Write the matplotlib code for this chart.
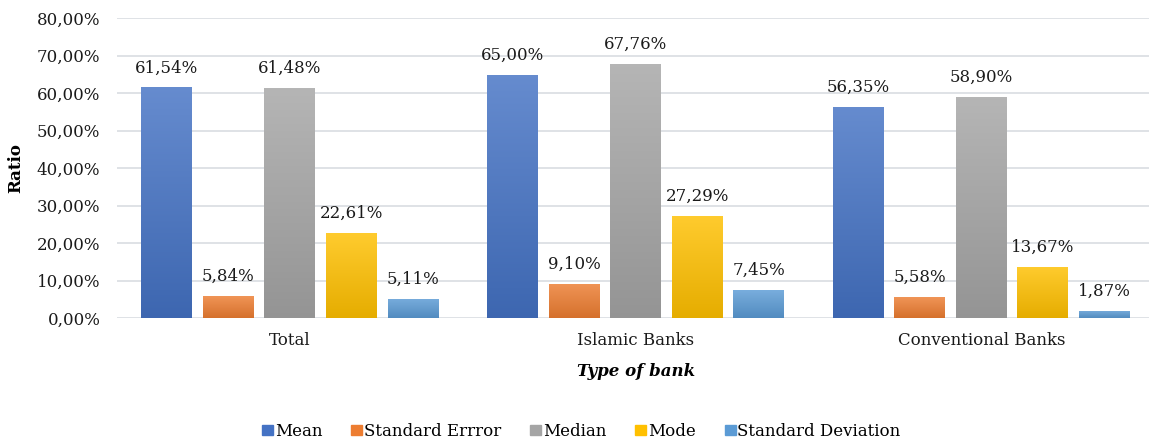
import numpy as np
import matplotlib
matplotlib.use("Agg")
import matplotlib.pyplot as plt
from matplotlib.colors import to_rgb
from matplotlib.patches import Patch
from matplotlib.ticker import FuncFormatter

plt.rcParams['font.family'] = ['DejaVu Serif']

categories = ['Total', 'Islamic Banks', 'Conventional Banks']
series = ['Mean', 'Standard Errror', 'Median', 'Mode', 'Standard Deviation']
mean = [61.54, 65.00, 56.35]
std_error = [5.84, 9.10, 5.58]
median = [61.48, 67.76, 58.90]
mode = [22.61, 27.29, 13.67]
std_dev = [5.11, 7.45, 1.87]
colors = ['#4472C4', '#ED7D31', '#A5A5A5', '#FFC000', '#5B9BD5']


def mix(c, other, t):
    c = np.array(to_rgb(c))
    return tuple(c * (1 - t) + np.array(other) * t)


def gradient_bar(ax, bar, color):
    # excel-like vertical gradient, lighter at the top
    x, y = bar.get_x(), bar.get_y()
    w, h = bar.get_width(), bar.get_height()
    top = np.array(mix(color, (1, 1, 1), 0.18))
    bottom = np.array(mix(color, (0, 0, 0), 0.10))
    t = np.linspace(0, 1, 100)[:, None]
    img = (top * (1 - t) + bottom * t)[:, None, :]
    im = ax.imshow(img, extent=[x, x + w, y, y + h], origin='upper',
                   aspect='auto', zorder=bar.get_zorder() + 0.1)
    im.set_clip_path(bar)


fig, ax = plt.subplots(figsize=(11.49, 4.43), dpi=100)
fig.subplots_adjust(left=0.1018, right=1.0045, top=0.9587, bottom=0.282)

values = [mean, std_error, median, mode, std_dev]
x = np.arange(len(categories))
step = 0.178
width = 0.147
for i, (name, vals, col) in enumerate(zip(series, values, colors)):
    pos = x + (i - 2) * step
    bars = ax.bar(pos, vals, width, color=col, zorder=2, label=name)
    for b, v in zip(bars, vals):
        gradient_bar(ax, b, col)
        ax.annotate(f"{v:.2f}%".replace('.', ','), (b.get_x() + b.get_width() / 2, v),
                    xytext=(0, 8), textcoords='offset points', ha='center', va='bottom',
                    fontsize=12, color='#1a1a1a')

ax.set_xlim(-0.5, 2.5)
ax.set_ylim(0, 80)
ax.set_yticks(np.arange(0, 81, 10))
ax.yaxis.set_major_formatter(FuncFormatter(lambda v, p: f"{v:.2f}%".replace('.', ',')))
ax.set_xticks(x)
ax.set_xticklabels(categories)
ax.tick_params(axis='both', length=0, labelsize=12, colors='#1a1a1a')
ax.tick_params(axis='y', pad=12)
ax.tick_params(axis='x', pad=10)
ax.grid(axis='y', color='#DCDFE4', linewidth=1.3, zorder=0)
ax.set_axisbelow(True)
for s in ax.spines.values():
    s.set_visible(False)

ax.set_ylabel('Ratio', fontsize=12, fontweight='bold', labelpad=9)
ax.set_xlabel('Type of bank', fontsize=12, fontweight='bold', style='italic', labelpad=10)

handles = [Patch(color=c, label=s) for s, c in zip(series, colors)]
fig.legend(handles=handles, loc='center', bbox_to_anchor=(0.506, 0.026), ncol=5,
           frameon=False, fontsize=12, handlelength=0.65, handleheight=0.6,
           handletextpad=0.1, columnspacing=1.75, borderpad=0)

fig.savefig('out.png', dpi=100)
